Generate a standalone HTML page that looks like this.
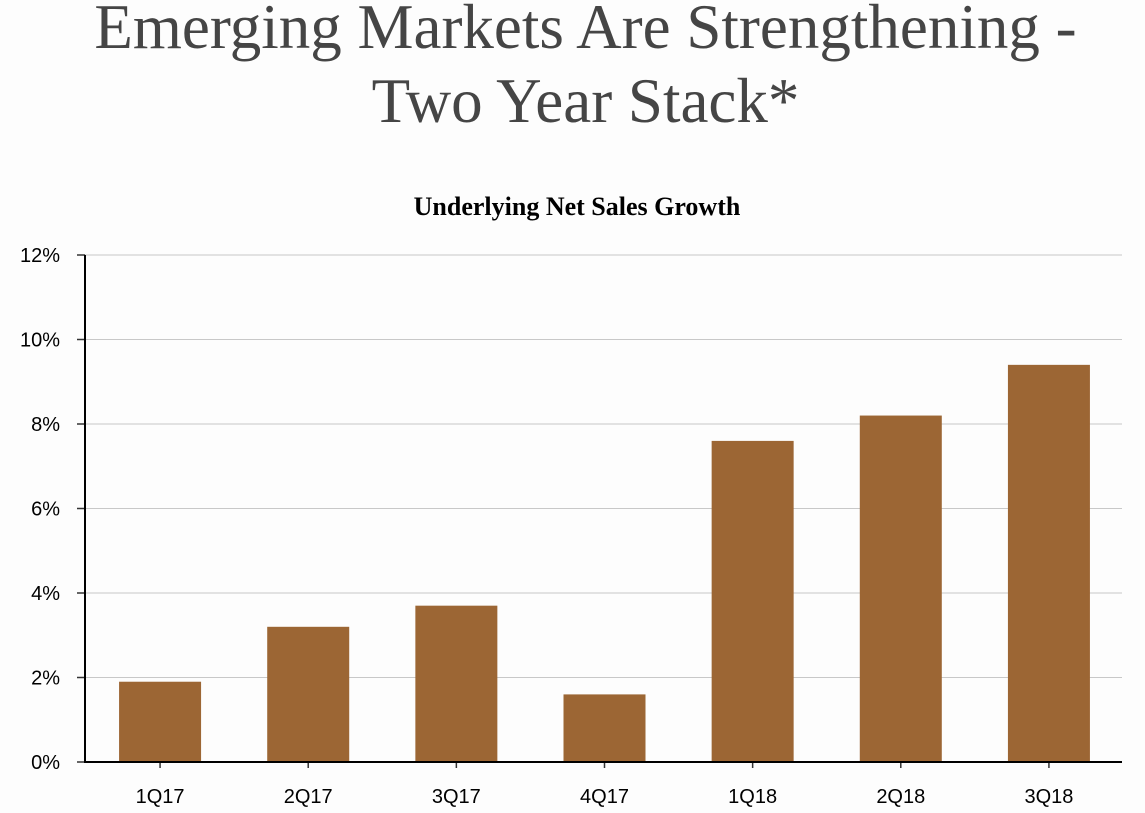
<!DOCTYPE html>
<html><head><meta charset="utf-8"><style>
html,body{margin:0;padding:0;background:#fdfdfd;}
body{width:1145px;height:813px;overflow:hidden;position:relative;}
.t{position:absolute;left:13px;width:1145px;text-align:center;font-family:"Liberation Serif",serif;color:#454545;font-size:63px;line-height:1;white-space:nowrap;}
</style></head><body>
<div class="t" style="top:-4px;">Emerging Markets Are Strengthening -</div>
<div class="t" style="top:70px;">Two Year Stack*</div>
<svg id="chart" width="1145" height="813" style="position:absolute;left:0;top:0;">
<text x="577" y="215" text-anchor="middle" font-family="Liberation Serif, serif" font-weight="bold" font-size="26" fill="#000">Underlying Net Sales Growth</text>
</svg>
<script>
const categories=["1Q17","2Q17","3Q17","4Q17","1Q18","2Q18","3Q18"];
const values=[1.9,3.2,3.7,1.6,7.6,8.2,9.4];
const yTicks=[0,2,4,6,8,10,12];
const yTickLabels=["0%","2%","4%","6%","8%","10%","12%"];
const svg=document.getElementById('chart');
const NS='http://www.w3.org/2000/svg';
const x0=85,x1=1122,y0=762,y1=255,yMax=12;
const y=v=>y0-(v/yMax)*(y0-y1);
const band=(x1-x0)/categories.length;
const xc=i=>x0+band*(i+0.5)+1;
function mk(tag,attrs){const e=document.createElementNS(NS,tag);for(const k in attrs)e.setAttribute(k,attrs[k]);svg.appendChild(e);return e;}
yTicks.forEach((t,i)=>{
 if(t>0){const g=mk('line',{x1:x0,x2:x1,y1:y(t),y2:y(t),stroke:'#c8c8c8','stroke-width':1});
 
 }
 const tk=mk('line',{x1:77,x2:x0,y1:y(t),y2:y(t),stroke:'#333','stroke-width':1.5});
 
 
 const l=mk('text',{x:60,y:y(t)+7,'text-anchor':'end','font-family':'Liberation Sans, sans-serif','font-size':20,fill:'#000'});
 l.textContent=yTickLabels[i];
 
 
});
categories.forEach((c,i)=>{
 const w=82;
 const b=mk('rect',{x:xc(i)-w/2,y:y(values[i]),width:w,height:y0-y(values[i]),fill:'#9c6634'});
 
 
 const tk=mk('line',{x1:xc(i),x2:xc(i),y1:y0,y2:y0+6,stroke:'#333','stroke-width':1.5});
 
 
 const l=mk('text',{x:xc(i),y:803,'text-anchor':'middle','font-family':'Liberation Sans, sans-serif','font-size':20,fill:'#000'});
 l.textContent=c;
 
 
});
const ya=mk('line',{x1:x0,x2:x0,y1:y1,y2:y0,stroke:'#000','stroke-width':2});


const xa=mk('line',{x1:x0-1,x2:x1,y1:y0,y2:y0,stroke:'#000','stroke-width':2});


</script>
</body></html>
